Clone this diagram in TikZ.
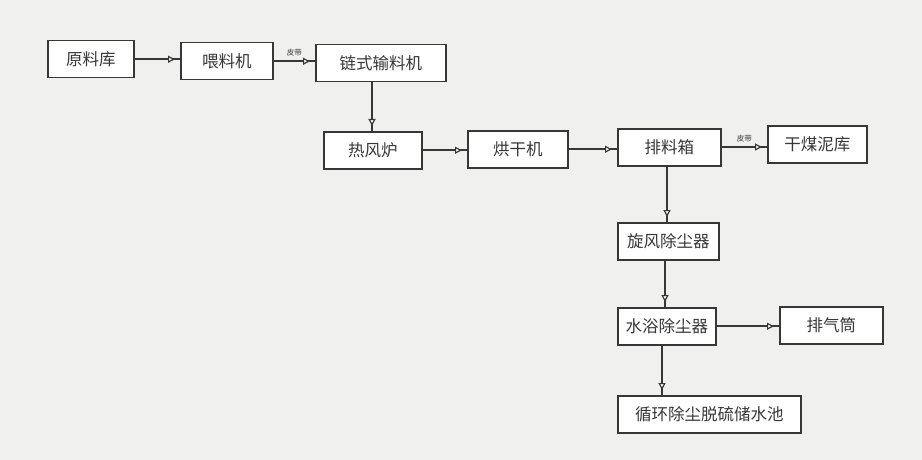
\documentclass[tikz,border=0pt]{standalone}
\usepackage{fontspec}
\setmainfont{Noto Sans CJK SC}
\usetikzlibrary{arrows.meta,decorations.markings}
\definecolor{paper}{RGB}{240,240,238}
\definecolor{ink}{RGB}{55,55,55}
\tikzset{
  box/.style={draw=ink, line width=1.5pt, fill=white, minimum height=37pt, inner sep=2pt, font=\fontsize{16.5}{16.5}\selectfont, text=ink, anchor=north west},
  flow/.style={draw=ink, line width=1.6pt, postaction={decorate},
    decoration={markings, mark=at position -5pt with {\arrow{Triangle[open, length=7pt, width=7pt, line width=1.2pt, fill=white]}}}},
  lbl/.style={font=\fontsize{7.5}{7.5}\selectfont, text=ink}
}
\begin{document}
\begin{tikzpicture}[x=1pt,y=-1pt]
\fill[paper] (0,0) rectangle (922,460);
\useasboundingbox (0,0) rectangle (922,460);
\node[box, minimum width=86pt] (ylk) at (47,40) {原料库};
\node[box, minimum width=92pt] (wlj) at (180,42) {喂料机};
\node[box, minimum width=130pt] (lss) at (315,44) {链式输料机};
\node[box, minimum width=98pt] (rfl) at (323,131) {热风炉};
\node[box, minimum width=100pt] (hgj) at (467,130) {烘干机};
\node[box, minimum width=103pt] (plx) at (617,128) {排料箱};
\node[box, minimum width=99pt] (gml) at (767,125) {干煤泥库};
\node[box, minimum width=101pt] (xf) at (617,222) {旋风除尘器};
\node[box, minimum width=98pt] (sy) at (617,307) {水浴除尘器};
\node[box, minimum width=103pt] (pqt) at (779,306) {排气筒};
\node[box, minimum width=183pt] (xh) at (617,395) {循环除尘脱硫储水池};
\draw[flow] (ylk.east) -- (ylk.east -| wlj.west);
\draw[flow] (wlj.east) -- (wlj.east -| lss.west) node[lbl, midway, above=1pt] {皮带};
\draw[flow] (lss.south -| 372,0) -- (rfl.north -| 372,0);
\draw[flow] (rfl.east) -- (rfl.east -| hgj.west);
\draw[flow] (hgj.east) -- (hgj.east -| plx.west);
\draw[flow] (plx.east |- 0,147) -- (gml.west |- 0,147) node[lbl, midway, above=1pt] {皮带};
\draw[flow] (plx.south -| 667,0) -- (xf.north -| 667,0);
\draw[flow] (xf.south -| 665,0) -- (sy.north -| 665,0);
\draw[flow] (sy.east) -- (sy.east -| pqt.west);
\draw[flow] (sy.south -| 662,0) -- (xh.north -| 662,0);
\end{tikzpicture}
\end{document}
